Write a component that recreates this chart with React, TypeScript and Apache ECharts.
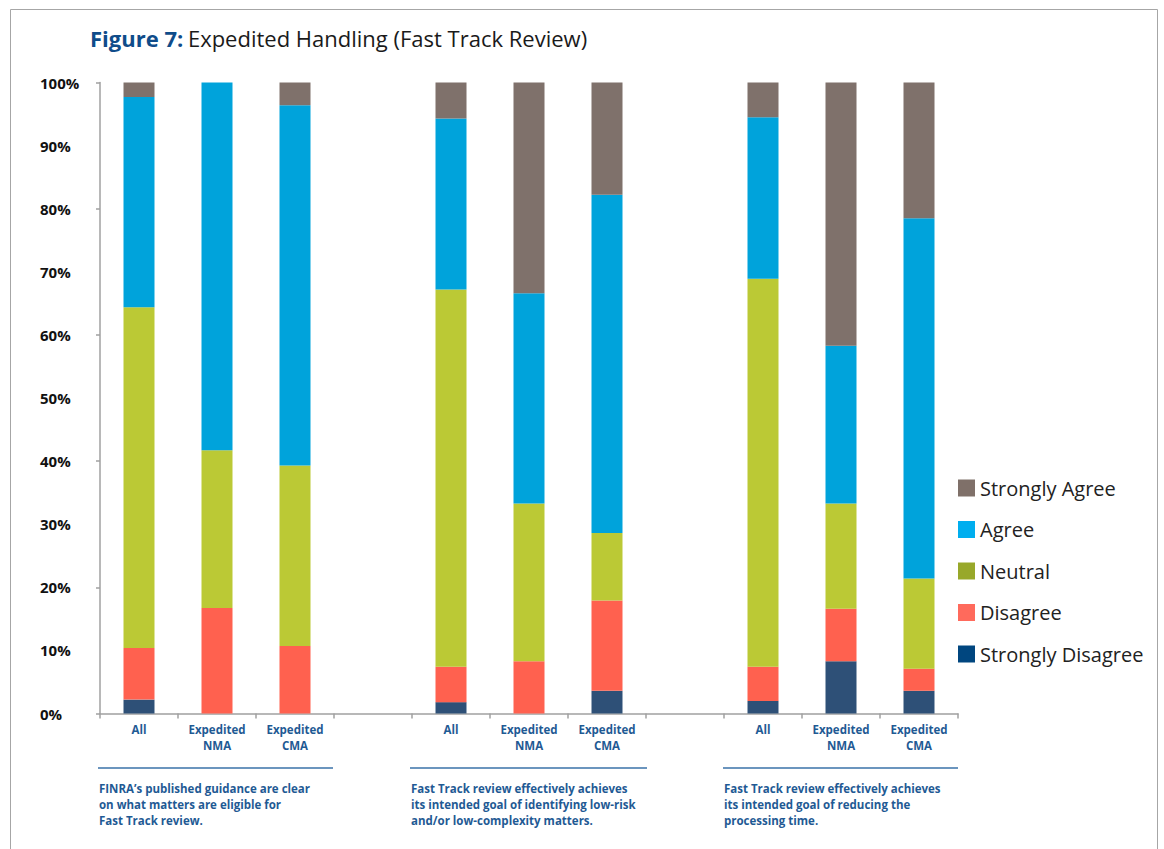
import React, { useEffect, useRef } from "react";
import * as echarts from "echarts";

const categories = [
  "All", "Expedited\nNMA", "Expedited\nCMA", "",
  "All", "Expedited\nNMA", "Expedited\nCMA", "",
  "All", "Expedited\nNMA", "Expedited\nCMA",
];

const stronglyDisagree = [2.2, 0, 0, null, 1.8, 0, 3.6, null, 2.0, 8.3, 3.6];
const disagree = [8.2, 16.7, 10.7, null, 5.6, 8.3, 14.3, null, 5.4, 8.3, 3.5];
const neutral = [54.0, 25.0, 28.6, null, 59.8, 25.0, 10.7, null, 61.5, 16.7, 14.3];
const agree = [33.3, 58.3, 57.1, null, 27.1, 33.3, 53.6, null, 25.6, 25.0, 57.1];
const stronglyAgree = [2.3, 0, 3.6, null, 5.7, 33.4, 17.8, null, 5.5, 41.7, 21.5];

const seriesNames = ["Strongly Disagree", "Disagree", "Neutral", "Agree", "Strongly Agree"];
const seriesValues = [stronglyDisagree, disagree, neutral, agree, stronglyAgree];
const barColors = ["#2e5077", "#ff614f", "#bbc935", "#00a3db", "#7f716b"];
const legendColors = ["#00467f", "#ff6a5c", "#98a82a", "#00aeef", "#7f7069"];

const groupTitles = [
  "FINRA’s published guidance are clear\non what matters are eligible for\nFast Track review.",
  "Fast Track review effectively achieves\nits intended goal of identifying low-risk\nand/or low-complexity matters.",
  "Fast Track review effectively achieves\nits intended goal of reducing the\nprocessing time.",
];

const FONT = "'Open Sans', 'Noto Sans', sans-serif";
const BLUE = "#1f5a94";

export default function App() {
  const ref = useRef<HTMLDivElement>(null);
  useEffect(() => {
    if (!ref.current) return;
    const chart = echarts.init(ref.current, null, { renderer: "svg" });
    const groupX = [99, 411, 724];
    const lineEnds = [333, 647, 958];
    const graphics: any[] = [
      {
        type: "rect",
        shape: { x: 10.5, y: 9.5, width: 1147, height: 900 },
        style: { fill: "none", stroke: "#a6a6a6", lineWidth: 1 },
        silent: true,
      },
    ];
    groupTitles.forEach((t, i) => {
      graphics.push({
        type: "line",
        shape: { x1: groupX[i] - 1, y1: 768, x2: lineEnds[i], y2: 768 },
        style: { stroke: "#3a72a8", lineWidth: 1.5 },
        silent: true,
      });
      graphics.push({
        type: "text",
        x: groupX[i],
        y: 780,
        style: {
          text: t,
          fill: BLUE,
          font: `bold 11.5px ${FONT}`,
          lineHeight: 16,
          textVerticalAlign: "top",
        },
        silent: true,
      });
    });

    chart.setOption({
      animation: false,
      textStyle: { fontFamily: FONT },
      title: {
        left: 90,
        top: 27,
        padding: 0,
        text: "{a|Figure 7:} {b|Expedited Handling (Fast Track Review)}",
        textStyle: {
          rich: {
            a: { fontSize: 22, fontWeight: "bold", color: "#0f4c8a", fontFamily: FONT },
            b: { fontSize: 22, fontWeight: "normal", color: "#1a1a1a", fontFamily: FONT },
          },
        },
      },
      legend: {
        orient: "vertical",
        left: 958,
        top: 478,
        padding: 0,
        itemWidth: 17,
        itemHeight: 17,
        itemGap: 21.5,
        icon: "rect",
        textStyle: { fontSize: 20, color: "#222", lineHeight: 20, fontFamily: FONT },
        data: [4, 3, 2, 1, 0].map((i) => ({
          name: seriesNames[i],
          itemStyle: { color: legendColors[i] },
        })),
      },
      grid: { left: 100, right: 206, top: 82.5, bottom: 135.5, containLabel: false },
      xAxis: {
        type: "category",
        data: categories,
        axisLine: { lineStyle: { color: "#a0a0a0", width: 1.5 } },
        axisTick: { show: true, alignWithLabel: false, length: 5, interval: 0, lineStyle: { color: "#a0a0a0", width: 1.5 } },
        axisLabel: {
          interval: 0,
          margin: 8,
          color: BLUE,
          fontWeight: "bold",
          fontSize: 11.5,
          lineHeight: 16,
          fontFamily: FONT,
        },
      },
      yAxis: [
        {
          type: "value",
          min: 0,
          max: 100,
          interval: 10,
          axisLine: { show: true, lineStyle: { color: "#a0a0a0", width: 1.5 } },
          axisTick: { show: false },
          splitLine: { show: false },
          axisLabel: {
            formatter: "{value}%",
            color: "#111",
            fontWeight: "bold",
            fontSize: 15,
            margin: 60,
            align: "left",
            fontFamily: FONT,
          },
        },
        {
          type: "value",
          min: 0,
          max: 100,
          interval: 20,
          position: "left",
          axisLine: { show: false },
          axisTick: { show: true, length: 4, lineStyle: { color: "#a0a0a0", width: 1.5 } },
          splitLine: { show: false },
          axisLabel: { show: false },
        },
      ],
      series: seriesNames.map((name, i) => ({
        name,
        type: "bar",
        stack: "total",
        barWidth: 31,
        data: seriesValues[i],
        itemStyle: { color: barColors[i] },
      })),
      graphic: graphics,
    });
    return () => chart.dispose();
  }, []);
  return <div ref={ref} style={{ width: 1164, height: 849, position: "absolute", left: 0, top: 0 }} />;
}
